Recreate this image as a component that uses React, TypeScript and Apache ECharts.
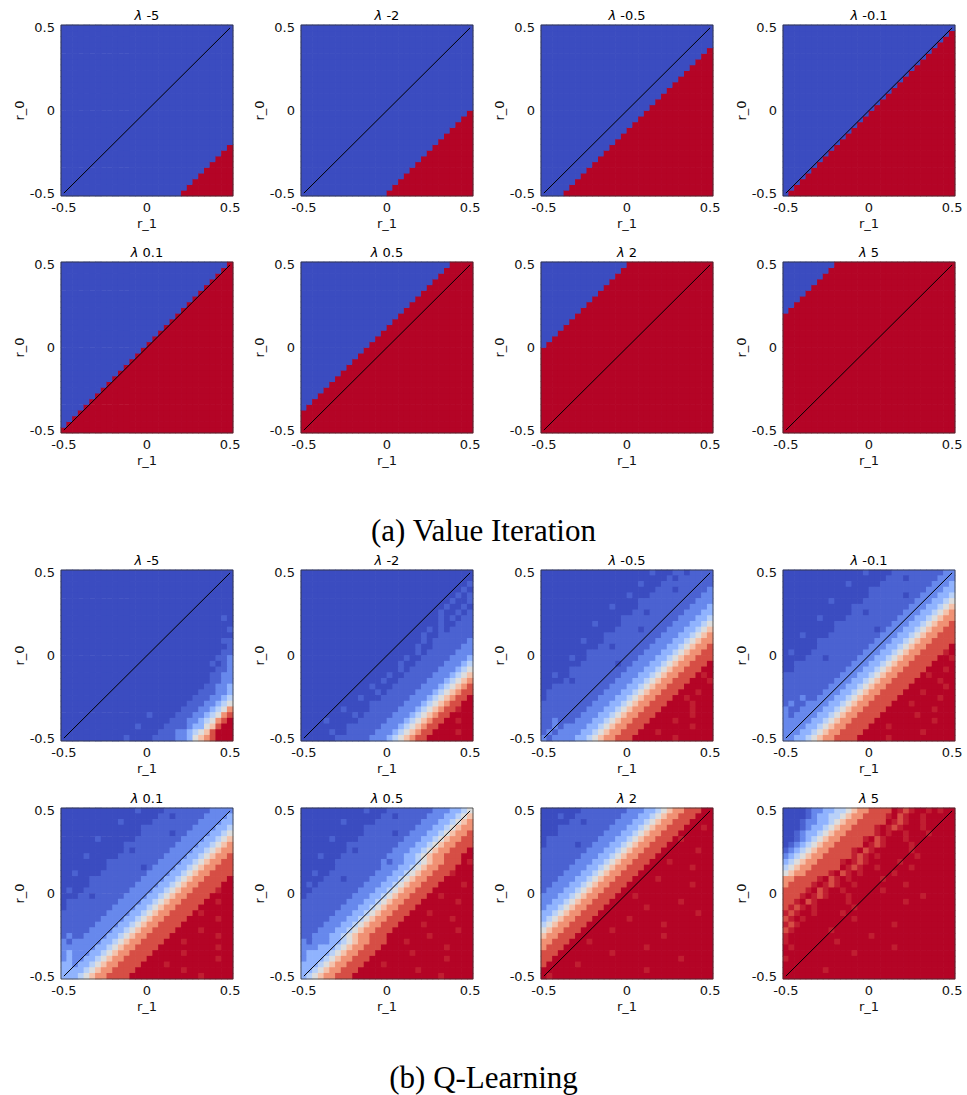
import React, { useEffect, useRef } from "react";
import * as echarts from "echarts";

// ---- data -------------------------------------------------------------
const N = 30; // cells per side, r_1 and r_0 both span -0.5 .. 0.5
const lambdas = ["-5", "-2", "-0.5", "-0.1", "0.1", "0.5", "2", "5"];
const tickValues = [-0.5, 0, 0.5];
const diagonal = [
  [-0.5, -0.5],
  [0.5, 0.5],
];
const coolwarm = ["#3b4cc0", "#6282ea", "#8db0fe", "#b8d0f9", "#dddddd", "#f5c4ad", "#f49a7b", "#de604d", "#b40426"];
// cell level key -> value on the 0..1 colour scale ('r' = slightly lighter deep red)
const levelKeys = "0123456789r";
const levelValues = [0, 0.05, 0.14, 0.26, 0.38, 0.5, 0.63, 0.77, 0.9, 1, 0.965];

// Value iteration: number of red cells (from the bottom) in each r_1 column
const viRedM5 = [0, 0, 0, 0, 0, 0, 0, 0, 0, 0, 0, 0, 0, 0, 0, 0, 0, 0, 0, 0, 0, 1, 2, 3, 4, 5, 6, 7, 8, 9];
const viRedM2 = [0, 0, 0, 0, 0, 0, 0, 0, 0, 0, 0, 0, 0, 0, 0, 1, 2, 3, 4, 5, 6, 7, 8, 9, 10, 11, 12, 13, 14, 15];
const viRedM05 = [0, 0, 0, 0, 1, 2, 3, 4, 5, 6, 7, 8, 9, 10, 11, 12, 13, 14, 15, 16, 17, 18, 19, 20, 21, 22, 23, 24, 25, 26];
const viRedM01 = [0, 1, 2, 3, 4, 5, 6, 7, 8, 9, 10, 11, 12, 13, 14, 15, 16, 17, 18, 19, 20, 21, 22, 23, 24, 25, 26, 27, 28, 29];
const viRedP01 = [1, 2, 3, 4, 5, 6, 7, 8, 9, 10, 11, 12, 13, 14, 15, 16, 17, 18, 19, 20, 21, 22, 23, 24, 25, 26, 27, 28, 29, 30];
const viRedP05 = [4, 5, 6, 7, 8, 9, 10, 11, 12, 13, 14, 15, 16, 17, 18, 19, 20, 21, 22, 23, 24, 25, 26, 27, 28, 29, 30, 30, 30, 30];
const viRedP2 = [15, 16, 17, 18, 19, 20, 21, 22, 23, 24, 25, 26, 27, 28, 29, 30, 30, 30, 30, 30, 30, 30, 30, 30, 30, 30, 30, 30, 30, 30];
const viRedP5 = [21, 22, 23, 24, 25, 26, 27, 28, 29, 30, 30, 30, 30, 30, 30, 30, 30, 30, 30, 30, 30, 30, 30, 30, 30, 30, 30, 30, 30, 30];

// Q-learning: colour level per cell, one string per r_0 row (top row first), one key per r_1 column
const qlM5 = [
  "000000000000000000000000000000",
  "000000000000000000000000000000",
  "000000000000000000000000000000",
  "000000000000000000000000000000",
  "000000000000000000000000000000",
  "000000000000000000000000000000",
  "000000000000000000000000000000",
  "000000000000000000000000000000",
  "000000000000000000000000000010",
  "000000000000000000000000000000",
  "000000000000000000000000000001",
  "000000000000000000000000000000",
  "000000000000000000000000000011",
  "000000000000000000000000000001",
  "000000000000000000000000000011",
  "000000000000000000000000000112",
  "000000000000000000000000001012",
  "000000000000000000000000000112",
  "000000000000000000000000001122",
  "000000000000000000000000001122",
  "000000000000000000000000011223",
  "000000000000000000000000111223",
  "000000000000000000000001112234",
  "000000000000000000000011122345",
  "000000000000000000000111223457",
  "000000000000000100001112234578",
  "000000000000000000011122345789",
  "000000000000010000111123356899",
  "000000000000000001112234568999",
  "000000000001000011112235678999",
];
const qlM2 = [
  "000000000000000000000000000000",
  "000000000000000000000000000000",
  "000000000000000000000000000001",
  "000000000000000000000000000010",
  "000000000000000000000000000101",
  "000000000000000000000000001001",
  "000000000000000000000000010010",
  "000000000000000000000000100101",
  "000000000000000000000000101011",
  "000000000000000000000000100111",
  "000000000000000000000010101111",
  "000000000000000000000100111111",
  "000000000000000000000101111112",
  "000000000000000000001001111122",
  "000000000000000000001011111222",
  "000000000000000000100111112223",
  "000000000000000001001111122234",
  "000000000000000001011111222345",
  "000000000000000100111112223456",
  "000000000000001001111122234567",
  "000000000000100011111222345678",
  "000000000000010111112223456788",
  "000000000010001111122234567889",
  "000000000000111111222345678899",
  "000000010000111112223456788r99",
  "000000000101111122234567889999",
  "000010000011111222345678899r99",
  "000000001111112223456788999999",
  "000001001111122234567889999r99",
  "000000111111222345678899999999",
];
const qlM05 = [
  "000000000000000000010001101111",
  "000000000000000000000010111111",
  "000000000000000001000111111111",
  "000000000000000000001110111112",
  "000000000000000100011111111122",
  "000000000000000001111111111222",
  "000000000000100001111111112223",
  "000000000000000011011111122233",
  "000000000000001111111111222334",
  "000000000100001111111112223345",
  "000000000000011110111122233456",
  "000000000001111111111222334567",
  "000000010001111111112223345677",
  "000000000011011111122233456778",
  "000000001111111111222334567788",
  "000001001111111112223345677888",
  "000000011111101122233456778889",
  "000001111111111222334567788899",
  "0010011111111122233456778889r9",
  "00001011111112223345677888999r",
  "001111111111222334567788899999",
  "011111111112223345677888999r99",
  "0111111111222334567788899r9999",
  "11111111122233456778889999r999",
  "11111111222334567788899999r999",
  "11111112223345677888999999r999",
  "11211122233456778889999r999999",
  "11212222334567788899999999r999",
  "12122223345677888999r999999999",
  "21222233456778889999999r999999",
];
const qlM01 = [
  "000000000000001000011111111122",
  "000000000000000000111011111222",
  "000000000001000001111111112223",
  "000000000000000111111111122233",
  "000000000000000111111011222334",
  "000000001000001111111112223345",
  "000000000000111111111122233456",
  "000000000000110111111222334567",
  "000000100001111111112223345677",
  "000000000111111111122233456778",
  "000000000111111101222334567788",
  "000100001111111112223345677888",
  "000000111111111122233456778888",
  "000000111111111222334567788889",
  "0100011111111122233456778888r9",
  "00001110111112223345677888899r",
  "001111111111222334567788889999",
  "0011111111122233456778888999r9",
  "1111111111222334567788889r9999",
  "111111111222334567788889999r99",
  "1111111122233456778888999999r9",
  "111111122233456778888999r99999",
  "111211222334567788889999999r99",
  "1211222233456778888999r9999999",
  "21122223345677888899999999r999",
  "21222233456778888999999r999999",
  "22222334567788889999999999r999",
  "222233456778888999r99999999999",
  "222334567788889999999999r99999",
  "223345677888899999r99999999999",
];
const qlP01 = [
  "000000000000010000111111112222",
  "000000000000000001101111122223",
  "000000000010000011111111222233",
  "000000000000001111111112222334",
  "000000000000001111101122223345",
  "000000100000011111111222233456",
  "000000000001111111112222334567",
  "000000000001011111122223345677",
  "000010000011111111222233456778",
  "000000001111111112222334567788",
  "000000001111110122223345677888",
  "001000011111111222233456778888",
  "000001111111112222334567788889",
  "000001111111122223345677888899",
  "010011111111222233456778888r99",
  "000110111112222334567788889999",
  "011111111122223345677888899r99",
  "011111111222233456778888999999",
  "111111112222334567788889r99999",
  "111111122223345677888899999r99",
  "111111222233456778888999999999",
  "111112222334567788889999r99999",
  "121122223345677888899999999r99",
  "212222233456778888999r99999999",
  "222222334567788889999999999r99",
  "232223345677888899999r99999999",
  "232233456778888999999999999r99",
  "332334567788889999r99999999999",
  "333345677888899999999r99999999",
  "333456778888999999999999r99999",
];
const qlP05 = [
  "000000000001000111111112223345",
  "000000000000001101111122233456",
  "000000010000011111111222334567",
  "000000000001111111112223345677",
  "000000000001111101122233456778",
  "000001000011111111222334567788",
  "000000001111111112223345677888",
  "000000001011111122233456778889",
  "000100011111111222334567788899",
  "00000011111111212233456778889r",
  "000000111111112223345677888999",
  "00100111111112223345677888r999",
  "000011101111222334567788899999",
  "0101111111122233456778889999r9",
  "001111111122233456778889999999",
  "011111111222334567788899r99999",
  "111111112223345677888999999r99",
  "111111122233456778889999999999",
  "1111112223345677888999r9999999",
  "11111222334567788899999999r999",
  "111122233456778889999r99999999",
  "111222334567788899999999999r99",
  "1122233456778889999999r9999999",
  "212223345677888999r99999999999",
  "2223334567788899999999999r9999",
  "2333345677888999999r9999999999",
  "2333456778889999999999999r9999",
  "33345677888999r999999999999999",
  "33456778889999999999r999999999",
  "345677888999999999999999r99999",
];
const qlP2 = [
  "000000011111111222334567788899",
  "000100111111112223345677888999",
  "000001101111122233456778889999",
  "0001111111112223345677888999r9",
  "000111111112223345677888999999",
  "011111111122233456778889r99999",
  "011111011222334567788899999999",
  "111111112223345677888999999r99",
  "111111122233456778889999999999",
  "1111112223345677888999r9999999",
  "11111222334567788899999999r999",
  "111122233456778889999999999999",
  "11122233456778889999r999999999",
  "11222334567788899999999999r999",
  "122233456778889999999999999999",
  "2223345677888999r9999999999999",
  "223345677888999999999999r99999",
  "233456778889999999r99999999999",
  "334567788899999999999999999r99",
  "345677888999999r99999999999999",
  "456778889999999999999r99999999",
  "567788899999r99999999999999999",
  "677888999999999999999r99999999",
  "77888999r999999999999999999999",
  "788899999999999999r99999999999",
  "888999999999r99999999999999999",
  "889999999999999999999999r99999",
  "899999r99999999999999999999999",
  "999999999999999999r99999999999",
  "9r9999999999999999999999999999",
];
const qlP5 = [
  "00001223344567788889r8r99r9r99",
  "000012334456778888r98r99r99999",
  "0001223345677888889r8r99r99999",
  "0001233456778888r9r8r999r99999",
  "0012334567788888r9r99r999r9999",
  "00123456778888r98r999r99999999",
  "012345677888889r8r9999r9999999",
  "123456778888r98r999999r9999999",
  "234567788888r8r9r999999r999999",
  "3456778888r9r8r99999r999999999",
  "45677888889r8r99r99999r9999999",
  "56778888r98r9r99999r9999999999",
  "778888r98r9r99999r999999999999",
  "78888r9r8r99r99999999r99999999",
  "8888r98r99r999999r999999999999",
  "888r9r8r999r999999999999r99999",
  "88r98r99999r999999999r99999999",
  "8r8r9r999999r99999999999999999",
  "r8r99r9999r9999999999999999999",
  "8r9r99999999r99999999999999999",
  "r8r9999999999999999r9999999999",
  "8r999999r999999999999999999999",
  "r99999999999999r99999999999999",
  "r99999999r99999999999999999999",
  "9r99999999999999999r9999999999",
  "999999999999r99999999999999999",
  "r99999999999999999999999999999",
  "999999999999999999999999999999",
  "9999999r9999999999999999999999",
  "999999999999999999999999999999",
];

const viPanels = [viRedM5, viRedM2, viRedM05, viRedM01, viRedP01, viRedP05, viRedP2, viRedP5];
const qlPanels = [qlM5, qlM2, qlM05, qlM01, qlP01, qlP05, qlP2, qlP5];

// ---- layout -----------------------------------------------------------
const COL_LEFT = [61, 301, 541, 783];
const ROW_TOP = [25, 262, 570, 808];
const PW = 172;
const PH = 171;
const STEP = 1 / (N - 1);
const HALF = STEP / 2;
const AX_MIN = -0.5 - HALF;
const AX_MAX = 0.5 + HALF;
const SANS = "DejaVu Sans";
const SERIF = "Liberation Serif";
const INK = "#111111";

function fitRow(s: string): string {
  if (s.length === N) return s;
  if (s.length > N) return s.slice(s.length - N);
  return s[0].repeat(N - s.length) + s;
}

function viCells(red: number[]) {
  const out: number[][] = [];
  for (let c = 0; c < N; c++) {
    for (let r = 0; r < N; r++) {
      out.push([-0.5 + c * STEP, -0.5 + r * STEP, r < red[c] ? 1 : 0]);
    }
  }
  return out;
}

function qlCells(rows: string[]) {
  const out: number[][] = [];
  rows.forEach((raw, i) => {
    const s = fitRow(raw);
    const r = N - 1 - i;
    for (let c = 0; c < N; c++) {
      const k = levelKeys.indexOf(s[c]);
      out.push([-0.5 + c * STEP, -0.5 + r * STEP, levelValues[k < 0 ? 0 : k]]);
    }
  });
  return out;
}

function renderCell(_params: any, api: any) {
  const x = api.value(0);
  const y = api.value(1);
  const a = api.coord([x - HALF, y + HALF]);
  const b = api.coord([x + HALF, y - HALF]);
  return {
    type: "rect",
    shape: { x: a[0] - 0.35, y: a[1] - 0.35, width: b[0] - a[0] + 0.7, height: b[1] - a[1] + 0.7 },
    style: { fill: api.visual("color") },
  };
}

function buildOption() {
  const grids: any[] = [];
  const xAxes: any[] = [];
  const yAxes: any[] = [];
  const series: any[] = [];
  const cellSeries: number[] = [];
  const graphics: any[] = [];

  const panels: { cells: number[][]; lam: string; left: number; top: number }[] = [];
  viPanels.forEach((red, k) => {
    panels.push({ cells: viCells(red), lam: lambdas[k], left: COL_LEFT[k % 4], top: ROW_TOP[k < 4 ? 0 : 1] });
  });
  qlPanels.forEach((rows, k) => {
    panels.push({ cells: qlCells(rows), lam: lambdas[k], left: COL_LEFT[k % 4], top: ROW_TOP[k < 4 ? 2 : 3] });
  });

  const labelStyle = { fontFamily: SANS, fontSize: 13, color: INK };

  panels.forEach((p, i) => {
    grids.push({ left: p.left, top: p.top, width: PW, height: PH, containLabel: false, outerBoundsMode: "none" });
    xAxes.push({
      type: "value",
      gridIndex: i,
      min: AX_MIN,
      max: AX_MAX,
      name: "r_1",
      nameLocation: "middle",
      nameGap: 21,
      nameTextStyle: labelStyle,
      axisLine: { show: false },
      axisTick: { show: true, length: 3.5, customValues: tickValues, lineStyle: { color: "#000", width: 0.8 } },
      axisLabel: { ...labelStyle, margin: 5, customValues: tickValues, formatter: (v: number) => String(v) },
      splitLine: { show: false },
    });
    yAxes.push({
      type: "value",
      gridIndex: i,
      min: AX_MIN,
      max: AX_MAX,
      name: "r_0",
      nameLocation: "middle",
      nameGap: 35,
      nameTextStyle: labelStyle,
      axisLine: { show: false },
      axisTick: { show: true, length: 3.5, customValues: tickValues, lineStyle: { color: "#000", width: 0.8 } },
      axisLabel: { ...labelStyle, margin: 6, customValues: tickValues, formatter: (v: number) => String(v) },
      splitLine: { show: false },
    });
    cellSeries.push(series.length);
    series.push({
      type: "custom",
      xAxisIndex: i,
      yAxisIndex: i,
      data: p.cells,
      encode: { x: 0, y: 1 },
      renderItem: renderCell,
      silent: true,
      z: 2,
    });
    series.push({
      type: "line",
      xAxisIndex: i,
      yAxisIndex: i,
      data: diagonal,
      symbol: "none",
      silent: true,
      lineStyle: { color: "#000", width: 1 },
      z: 5,
    });
    graphics.push({
      type: "rect",
      silent: true,
      z: 100,
      shape: { x: p.left, y: p.top, width: PW, height: PH },
      style: { fill: "none", stroke: "#333", lineWidth: 0.8 },
    });
    graphics.push({
      type: "text",
      silent: true,
      z: 100,
      x: p.left + PW / 2,
      y: p.top - 3,
      style: {
        text: `{i|λ} ${p.lam}`,
        fontFamily: SANS,
        fontSize: 13,
        fill: "#000",
        align: "center",
        verticalAlign: "bottom",
        rich: { i: { fontFamily: SANS, fontSize: 13, fontStyle: "italic", fill: "#000" } },
      },
    });
  });

  graphics.push({
    type: "text",
    silent: true,
    x: 483.5,
    y: 530,
    style: { text: "(a) Value Iteration", fontFamily: SERIF, fontSize: 31, fill: "#000", align: "center", verticalAlign: "middle" },
  });
  graphics.push({
    type: "text",
    silent: true,
    x: 483.5,
    y: 1077,
    style: { text: "(b) Q-Learning", fontFamily: SERIF, fontSize: 31, fill: "#000", align: "center", verticalAlign: "middle" },
  });

  return {
    animation: false,
    backgroundColor: "#ffffff",
    grid: grids,
    xAxis: xAxes,
    yAxis: yAxes,
    visualMap: {
      type: "continuous",
      show: false,
      min: 0,
      max: 1,
      dimension: 2,
      seriesIndex: cellSeries,
      inRange: { color: coolwarm },
    },
    series,
    graphic: { elements: graphics },
  };
}

export default function App() {
  const ref = useRef<HTMLDivElement>(null);
  useEffect(() => {
    document.body.style.margin = "0";
    if (!ref.current) return;
    const chart = echarts.init(ref.current, null, { renderer: "svg" });
    chart.setOption(buildOption() as any);
    return () => chart.dispose();
  }, []);
  return <div ref={ref} style={{ width: 967, height: 1095 }} />;
}
